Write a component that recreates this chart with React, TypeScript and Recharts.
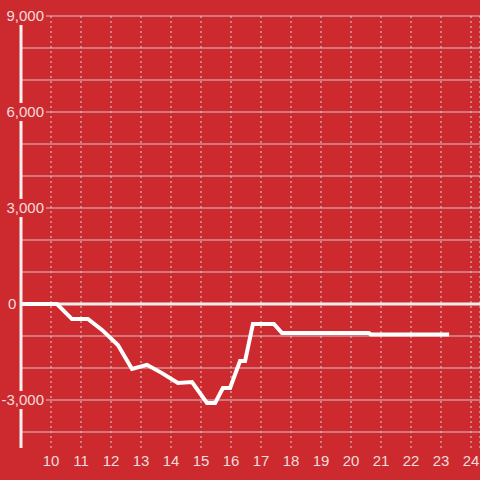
import { CartesianGrid, Line, LineChart, ReferenceLine, XAxis, YAxis } from "recharts";

const BG = "#cd2a30";
const LABEL = "#f3dcdc";

const hours = [
  9, 10.2, 10.7, 11.23, 11.7, 12.23, 12.7, 13.2, 13.7, 14.23, 14.7, 15.2, 15.47,
  15.73, 15.97, 16.3, 16.47, 16.73, 17.43, 17.7, 20.6, 20.66, 23.27,
];
const balance = [
  0, 0, -470, -470, -810, -1280, -2030, -1900, -2160, -2470, -2440, -3090, -3090,
  -2625, -2625, -1780, -1780, -625, -625, -910, -910, -950, -950,
];

const xTicks = [10, 11, 12, 13, 14, 15, 16, 17, 18, 19, 20, 21, 22, 23, 24];
const yTicks = [-3000, 0, 3000, 6000, 9000];
const yGrid = [-4000, -3000, -2000, -1000, 0, 1000, 2000, 3000, 4000, 5000, 6000, 7000, 8000, 9000];

const data = hours.map((h, i) => ({ h, v: balance[i] }));

function YTick(props: any) {
  const { y, payload } = props;
  const label = payload.value.toLocaleString("en-US");
  const isZero = payload.value === 0;
  const w = label.length * 8.4 + 4;
  const right = isZero ? 17 : 46;
  return (
    <g>
      <rect x={right - w} y={y - 9} width={w} height={18} fill={BG} />
      <text
        x={isZero ? 8 : 44}
        y={y}
        dy={5}
        textAnchor={isZero ? "start" : "end"}
        fill={LABEL}
        fontSize={15}
        fontFamily="Liberation Sans, Arial, sans-serif"
      >
        {label}
      </text>
    </g>
  );
}

function XTick(props: any) {
  const { x, payload } = props;
  return (
    <text
      x={x}
      y={466}
      textAnchor="middle"
      fill={LABEL}
      fontSize={15}
      fontFamily="Liberation Sans, Arial, sans-serif"
    >
      {payload.value}
    </text>
  );
}

export default function App() {
  return (
    <div style={{ position: "fixed", left: 0, top: 0, width: 480, height: 480, background: BG }}>
      <LineChart width={480} height={480} data={data} margin={{ top: 16, right: 0, left: 0, bottom: 0 }}>
        <CartesianGrid horizontal={false} stroke="#d9d0d0" strokeDasharray="2 3" />
        <CartesianGrid vertical={false} horizontalValues={yGrid} stroke="#cfc6c6" />
        <XAxis
          dataKey="h"
          type="number"
          domain={[9, 24.3]}
          ticks={xTicks}
          allowDataOverflow
          axisLine={false}
          tickLine={false}
          height={32}
          tick={<XTick />}
        />
        <YAxis
          type="number"
          domain={[-4500, 9000]}
          ticks={yTicks}
          width={21}
          allowDataOverflow
          axisLine={{ stroke: "#f4f0f0", strokeWidth: 3 }}
          tickLine={false}
          tick={<YTick />}
        />
        <ReferenceLine y={0} stroke="#f2eeee" strokeWidth={3} />
        <Line
          type="linear"
          dataKey="v"
          stroke="#ffffff"
          strokeWidth={4}
          dot={false}
          isAnimationActive={false}
        />
      </LineChart>
    </div>
  );
}
